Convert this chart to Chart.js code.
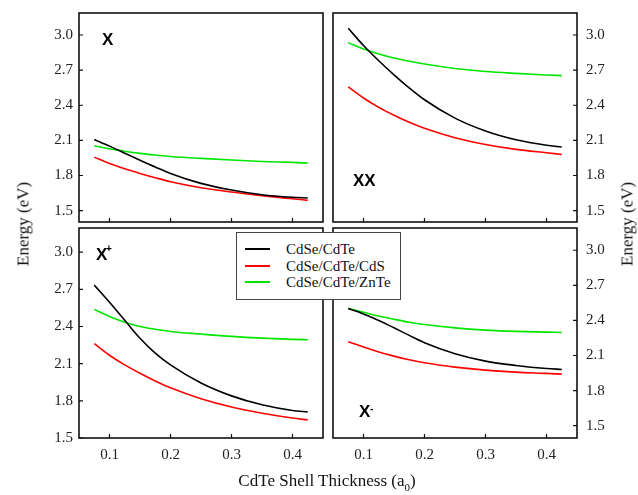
<!DOCTYPE html>
<html>
<head>
<meta charset="utf-8">
<script src="https://cdn.jsdelivr.net/npm/chart.js@4/dist/chart.umd.min.js"></script>
<style>
  body { margin: 0; background: #fff; }
  #fig { position: relative; width: 638px; height: 495px; overflow: hidden; font-family: 'Liberation Serif', 'Times New Roman', serif; color: #111; }
  #fig canvas { position: absolute; left: 0; top: 0; }
  .tag { position: absolute; font: bold 17px/17px 'Liberation Sans', Arial, sans-serif; color: #000; }
  .tag span { position: absolute; font-size: 10px; line-height: 10px; }
  .axis-title { position: absolute; font-size: 17px; line-height: 17px; white-space: nowrap; }
  .axis-title sub { font-size: 11px; }
  #legend { position: absolute; left: 236px; top: 232px; width: 163px; height: 66px; border: 1px solid #444; background: #fff; }
  #legend .row { position: absolute; left: 0; height: 17px; font-size: 15px; line-height: 17px; white-space: nowrap; }
  #legend .row i { position: absolute; left: 8px; top: 7px; width: 25px; height: 2px; }
  #legend .row b { position: absolute; left: 49px; top: 0; font-weight: normal; }
</style>
</head>
<body>
<div id="fig">
  <canvas id="pX" width="638" height="495"></canvas>
  <canvas id="pXX" width="638" height="495"></canvas>
  <canvas id="pXp" width="638" height="495"></canvas>
  <canvas id="pXm" width="638" height="495"></canvas>

  <div class="tag" style="left:102px;top:31px">X</div>
  <div class="tag" style="left:353px;top:172px">XX</div>
  <div class="tag" style="left:96px;top:246px">X<span style="left:10px;top:-2px">+</span></div>
  <div class="tag" style="left:359px;top:403px">X<span style="left:11px;top:1px">-</span></div>

  <div class="axis-title" style="left:23px;top:224px;transform:translate(-50%,-50%) rotate(-90deg)">Energy (eV)</div>
  <div class="axis-title" style="left:627px;top:224px;transform:translate(-50%,-50%) rotate(-90deg)">Energy (eV)</div>
  <div class="axis-title" style="left:327px;top:484px;transform:translate(-50%,-50%)">CdTe Shell Thickness (a<sub>0</sub>)</div>

  <div id="legend"></div>
</div>

<script>
// shell thickness (a0) where the energies were sampled
var thickness = [0.075, 0.1, 0.125, 0.15, 0.175, 0.2, 0.25, 0.3, 0.35, 0.4, 0.425];
var seriesNames = ['CdSe/CdTe', 'CdSe/CdTe/CdS', 'CdSe/CdTe/ZnTe'];
var seriesColors = ['#000000', '#ff0000', '#00e600'];
var energyTicks = [1.5, 1.8, 2.1, 2.4, 2.7, 3.0];
var thicknessTicks = [0.1, 0.2, 0.3, 0.4];

// exciton X
var xCdTe = [2.108, 2.051, 1.991, 1.931, 1.873, 1.818, 1.733, 1.676, 1.636, 1.614, 1.608];
var xCdS  = [1.957, 1.903, 1.858, 1.818, 1.781, 1.747, 1.696, 1.659, 1.628, 1.601, 1.588];
var xZnTe = [2.054, 2.028, 2.007, 1.989, 1.975, 1.963, 1.946, 1.932, 1.920, 1.912, 1.906];

// biexciton XX
var xxCdTe = [3.057, 2.910, 2.780, 2.660, 2.548, 2.447, 2.290, 2.180, 2.105, 2.058, 2.043];
var xxCdS  = [2.557, 2.462, 2.382, 2.315, 2.255, 2.203, 2.122, 2.065, 2.023, 1.994, 1.980];
var xxZnTe = [2.935, 2.880, 2.838, 2.804, 2.776, 2.752, 2.714, 2.688, 2.672, 2.659, 2.653];

// positive trion X+
var xpCdTe = [2.734, 2.595, 2.450, 2.305, 2.185, 2.090, 1.944, 1.840, 1.768, 1.722, 1.710];
var xpCdS  = [2.261, 2.168, 2.090, 2.022, 1.960, 1.905, 1.817, 1.750, 1.700, 1.661, 1.645];
var xpZnTe = [2.538, 2.481, 2.435, 2.400, 2.378, 2.360, 2.339, 2.320, 2.306, 2.296, 2.293];

// negative trion X-
var xmCdTe = [2.502, 2.455, 2.400, 2.337, 2.272, 2.209, 2.115, 2.052, 2.015, 1.989, 1.981];
var xmCdS  = [2.217, 2.172, 2.131, 2.095, 2.064, 2.038, 2.001, 1.975, 1.958, 1.947, 1.941];
var xmZnTe = [2.502, 2.470, 2.437, 2.410, 2.385, 2.365, 2.336, 2.317, 2.306, 2.300, 2.297];

// each panel gets its own canvas; frame = [left, top, right, bottom] of the plot box
var panels = [
  { id: 'pX',  series: [xCdTe, xCdS, xZnTe],    frame: [79, 13, 323, 222],  yRange: [1.403, 3.188], yPos: 'left',  showX: false },
  { id: 'pXX', series: [xxCdTe, xxCdS, xxZnTe], frame: [333, 13, 577, 222], yRange: [1.403, 3.188], yPos: 'right', showX: false },
  { id: 'pXp', series: [xpCdTe, xpCdS, xpZnTe], frame: [79, 228, 323, 438], yRange: [1.5, 3.195],   yPos: 'left',  showX: true },
  { id: 'pXm', series: [xmCdTe, xmCdS, xmZnTe], frame: [333, 228, 577, 438], yRange: [1.395, 3.19], yPos: 'right', showX: true }
];

var tickFont = { family: "'Liberation Serif', 'Times New Roman', serif", size: 15 };
var axisW = 40;  // room for the energy labels
var axisH = 40;  // room for the thickness labels

// box around the plot area plus short inward tick marks
var frameTicks = {
  id: 'frameTicks',
  afterDraw: function (chart) {
    var ctx = chart.ctx, a = chart.chartArea, x = chart.scales.x, y = chart.scales.y;
    ctx.save();
    ctx.strokeStyle = '#111';
    ctx.lineWidth = 1.2;
    ctx.beginPath();
    x.ticks.forEach(function (t) {
      var px = x.getPixelForValue(t.value);
      ctx.moveTo(px, a.bottom);
      ctx.lineTo(px, a.bottom - 4);
    });
    var onRight = y.options.position === 'right';
    var ex = onRight ? a.right : a.left;
    y.ticks.forEach(function (t) {
      var py = y.getPixelForValue(t.value);
      ctx.moveTo(ex, py);
      ctx.lineTo(onRight ? ex - 4 : ex + 4, py);
    });
    ctx.stroke();
    ctx.lineWidth = 1.6;
    ctx.strokeRect(a.left, a.top, a.right - a.left, a.bottom - a.top);
    ctx.restore();
  }
};

panels.forEach(function (p) {
  var l = p.frame[0], t = p.frame[1], r = p.frame[2], b = p.frame[3];
  var xh = p.showX ? axisH : 0;
  new Chart(document.getElementById(p.id), {
    type: 'line',
    data: {
      datasets: p.series.map(function (vals, i) {
        return {
          label: seriesNames[i],
          data: thickness.map(function (th, j) { return { x: th, y: vals[j] }; }),
          borderColor: seriesColors[i],
          borderWidth: 1.6,
          pointRadius: 0,
          fill: false,
          cubicInterpolationMode: 'monotone'
        };
      })
    },
    options: {
      responsive: false,
      animation: false,
      events: [],
      layout: {
        padding: {
          left: p.yPos === 'left' ? l - axisW : l,
          top: t,
          right: p.yPos === 'right' ? 638 - r - axisW : 638 - r,
          bottom: 495 - b - xh
        }
      },
      plugins: { legend: { display: false }, tooltip: { enabled: false } },
      scales: {
        x: {
          type: 'linear', min: 0.05, max: 0.45,
          grid: { display: false, drawTicks: false },
          border: { display: false },
          afterBuildTicks: function (s) { s.ticks = thicknessTicks.map(function (v) { return { value: v }; }); },
          afterFit: function (s) { s.height = xh; s.paddingLeft = 0; s.paddingRight = 0; },
          ticks: { display: p.showX, padding: 8, font: tickFont, color: '#222', maxRotation: 0, autoSkip: false,
                   callback: function (v) { return v.toFixed(1); } }
        },
        y: {
          type: 'linear', position: p.yPos, min: p.yRange[0], max: p.yRange[1],
          grid: { display: false, drawTicks: false },
          border: { display: false },
          afterBuildTicks: function (s) { s.ticks = energyTicks.map(function (v) { return { value: v }; }); },
          afterFit: function (s) { s.width = axisW; s.paddingTop = 0; s.paddingBottom = 0; },
          ticks: { padding: p.yPos === 'left' ? 6 : 9, font: tickFont, color: '#222', autoSkip: false,
                   callback: function (v) { return v.toFixed(1); } }
        }
      }
    },
    plugins: [frameTicks]
  });
});

// shared legend across the two lower panels
var legend = document.getElementById('legend');
seriesNames.forEach(function (name, i) {
  var row = document.createElement('div');
  row.className = 'row';
  row.style.top = (8.4 + 16.5 * i) + 'px';
  row.innerHTML = '<i style="background:' + seriesColors[i] + '"></i><b>' + name + '</b>';
  legend.appendChild(row);
});
</script>
</body>
</html>
